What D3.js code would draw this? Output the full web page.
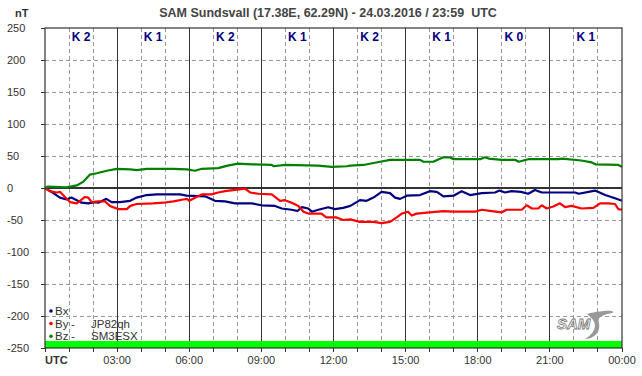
<!DOCTYPE html>
<html>
  <head>
    <meta charset="utf-8">
    <title>SAM Sundsvall magnetometer</title>
    <script src="https://d3js.org/d3.v7.min.js"></script>
    <style>
      body { margin: 0; background: #fff; }
      text { font-family: Arial, "Liberation Sans", sans-serif; white-space: pre; }
      line { shape-rendering: crispEdges; }
    </style>
  </head>
  <body>
    <div id="chart"></div>
    <script>
      var title = "SAM Sundsvall (17.38E, 62.29N) - 24.03.2016 / 23:59  UTC";
      var yTicks = [250, 200, 150, 100, 50, 0, -50, -100, -150, -200, -250];
      var xTickLabels = ["UTC", "03:00", "06:00", "09:00", "12:00", "15:00", "18:00", "21:00", "00:00"];
      var kValues = [2, 1, 2, 1, 2, 1, 0, 1];

      // [hour, nT]
      var bx = [[0,0],[0.35,-8],[0.62,-15],[0.9,-18],[1.1,-15],[1.32,-19],[1.52,-23],[1.8,-24],[2.08,-22],
        [2.22,-23],[2.43,-19],[2.55,-17],[2.77,-22],[3.12,-22],[3.54,-20],[3.81,-15],[4.23,-11],[4.65,-10],
        [5.62,-10],[5.89,-12],[6.66,-13],[7.07,-20],[7.49,-21],[7.9,-24],[8.6,-24],[9.01,-27],[9.57,-28],
        [9.85,-32],[10.26,-34],[10.5,-36],[10.68,-30],[10.95,-32],[11.1,-37],[11.37,-34],[11.78,-30],
        [12.06,-33],[12.4,-31],[12.7,-28],[13.1,-19],[13.38,-20],[13.66,-15],[14.0,-6],[14.35,-8],
        [14.56,-15],[14.77,-17],[15.05,-12],[15.6,-11],[16.0,-5],[16.3,-6],[16.57,-13],[16.99,-12],
        [17.33,-5],[17.68,-11],[18.17,-8],[18.72,-7],[18.9,-4],[19.14,-7],[19.4,-5],[19.8,-6],[20.1,-9],
        [20.38,-3],[20.66,-7],[21.35,-7],[22.05,-7],[22.2,-9],[22.88,-4],[23.3,-11],[23.71,-16],[24,-20]];

      var by = [[0,0],[0.2,-5],[0.49,-7],[0.62,-6],[0.83,-14],[1.04,-22],[1.32,-24],[1.52,-18],[1.66,-14],
        [1.8,-15],[1.94,-22],[2.22,-21],[2.5,-21],[2.7,-28],[3.05,-33],[3.4,-33],[3.55,-28],[3.81,-25],
        [4.5,-24],[4.92,-23],[5.34,-21],[5.75,-18],[5.9,-17],[6.0,-20],[6.3,-14],[6.52,-10],[6.93,-10],
        [7.2,-7],[7.49,-5],[7.9,-3],[8.32,-1],[8.53,-7],[8.87,-9],[9.43,-10],[9.78,-20],[9.98,-19],
        [10.26,-23],[10.54,-28],[10.75,-37],[10.95,-40],[11.5,-40],[11.7,-46],[12.13,-46],[12.4,-50],
        [12.7,-49],[13.1,-53],[13.66,-53],[14.0,-55],[14.35,-53],[14.63,-46],[14.84,-40],[15.1,-37],
        [15.25,-43],[15.46,-40],[16.0,-38],[16.57,-36],[16.99,-37],[17.54,-37],[17.89,-37],[18.17,-34],
        [18.58,-36],[19.0,-38],[19.2,-34],[19.83,-34],[20.04,-27],[20.25,-32],[20.52,-32],[20.66,-27],
        [20.87,-32],[21.14,-29],[21.42,-24],[21.63,-30],[21.9,-28],[22.32,-32],[22.81,-31],[23.09,-24],
        [23.43,-24],[23.71,-25],[23.85,-33],[24,-34]];

      var bz = [[0,0],[0.1,2],[0.9,1],[1.32,4],[1.6,10],[1.87,21],[2.15,23],[2.57,27],[2.98,30],[3.54,29],
        [3.82,28],[4.23,30],[5.34,30],[5.9,29],[6.24,27],[6.52,30],[7.2,31],[7.6,35],[8.03,38],[8.6,37],
        [9.43,36],[9.5,34],[9.98,36],[11.36,35],[11.93,33],[12.55,34],[12.7,35],[13.24,36],[13.94,41],
        [14.35,44],[15.6,44],[15.74,41],[16.15,41],[16.57,48],[16.85,48],[16.99,45],[18.1,45],[18.3,48],
        [18.45,46],[19.0,44],[19.55,44],[19.7,41],[19.9,43],[20.1,45],[21.35,45],[21.5,46],[22.3,43],
        [22.74,40],[22.9,37],[23.85,36],[24,33]];

      var series = [
        {name: "Bx", station: "", color: "#000080", data: bx},
        {name: "By", station: "JP82qh", color: "#ff0000", data: by},
        {name: "Bz", station: "SM3ESX", color: "#008000", data: bz}
      ];

      var width = 642, height = 376;
      var x = d3.scaleLinear().domain([0, 24]).range([45, 622]);
      var y = d3.scaleLinear().domain([-250, 250]).range([348, 28]);

      var svg = d3.select("#chart").append("svg")
        .attr("width", width)
        .attr("height", height);

      // title and unit
      svg.append("text").attr("x", 328).attr("y", 17).attr("text-anchor", "middle")
        .style("font-size", "12.5px").style("font-weight", "bold").attr("fill", "#444").text(title);
      svg.append("text").attr("x", 15).attr("y", 17)
        .style("font-size", "11px").style("font-weight", "bold").attr("fill", "#333").text("nT");

      // dashed grid
      var hours = d3.range(1, 24).filter(function(h) { return h % 3 != 0; });
      svg.selectAll("line.vgrid").data(hours).enter().append("line")
        .attr("x1", function(d) { return x(d); }).attr("x2", function(d) { return x(d); })
        .attr("y1", y(250)).attr("y2", y(-250))
        .attr("stroke", "#999").attr("stroke-dasharray", "4,3");
      svg.selectAll("line.hgrid").data(yTicks.filter(function(d) { return Math.abs(d) != 250 && d != 0; }))
        .enter().append("line")
        .attr("x1", x(0)).attr("x2", x(24))
        .attr("y1", function(d) { return y(d); }).attr("y2", function(d) { return y(d); })
        .attr("stroke", "#999").attr("stroke-dasharray", "4,3");

      // solid 3h lines and zero line
      svg.selectAll("line.vmain").data(d3.range(3, 24, 3)).enter().append("line")
        .attr("x1", function(d) { return x(d); }).attr("x2", function(d) { return x(d); })
        .attr("y1", y(250)).attr("y2", y(-250))
        .attr("stroke", "#333").attr("stroke-width", 1.2);
      svg.append("line").attr("x1", x(0)).attr("x2", x(24)).attr("y1", y(0)).attr("y2", y(0))
        .attr("stroke", "#333").attr("stroke-width", 1.2);

      // K index labels
      svg.selectAll("text.k").data(kValues).enter().append("text")
        .attr("x", function(d, i) { return x(i * 3 + 1.5); })
        .attr("y", 41)
        .attr("text-anchor", "middle")
        .style("font-size", "12px").style("font-weight", "bold")
        .attr("fill", "#000080")
        .text(function(d) { return "K " + d; });

      // K bar at the bottom
      svg.selectAll("rect.kbar").data(kValues).enter().append("rect")
        .attr("x", function(d, i) { return x(i * 3); })
        .attr("width", x(3) - x(0))
        .attr("y", y(-239)).attr("height", y(-250) - y(-239))
        .attr("fill", "#00ff00");

      // series
      var line = d3.line().x(function(d) { return x(d[0]); }).y(function(d) { return y(d[1]); });
      series.forEach(function(s) {
        svg.append("path").datum(s.data).attr("d", line)
          .attr("fill", "none").attr("stroke", s.color).attr("stroke-width", 2.2)
          .attr("stroke-linejoin", "round");
      });

      // frame
      svg.append("rect").attr("x", x(0)).attr("y", y(250))
        .attr("width", x(24) - x(0)).attr("height", y(-250) - y(250))
        .attr("fill", "none").attr("stroke", "#333").attr("stroke-width", 1.2);

      // y axis ticks + labels
      svg.selectAll("line.ytick").data(yTicks).enter().append("line")
        .attr("x1", x(0) - 4).attr("x2", x(0))
        .attr("y1", function(d) { return y(d); }).attr("y2", function(d) { return y(d); })
        .attr("stroke", "#333");
      svg.selectAll("text.ylab").data(yTicks).enter().append("text")
        .attr("x", 7).attr("y", function(d) { return y(d); }).attr("dy", "0.35em")
        .style("font-size", "11px").attr("fill", "#333")
        .text(function(d) { return d; });

      // x axis ticks + labels
      svg.selectAll("line.xtick").data(d3.range(0, 25)).enter().append("line")
        .attr("x1", function(d) { return x(d); }).attr("x2", function(d) { return x(d); })
        .attr("y1", y(-250)).attr("y2", y(-250) + 4)
        .attr("stroke", "#333");
      svg.selectAll("text.xlab").data(xTickLabels).enter().append("text")
        .attr("x", function(d, i) { return i == 0 ? x(0) : x(i * 3); })
        .attr("y", 364)
        .attr("text-anchor", function(d, i) { return i == 0 ? "start" : "middle"; })
        .style("font-size", "11px")
        .style("font-weight", function(d, i) { return i == 0 ? "bold" : "normal"; })
        .attr("fill", "#333")
        .text(function(d) { return d; });

      // legend
      var legend = svg.selectAll("g.legend").data(series).enter().append("g")
        .attr("transform", function(d, i) { return "translate(51," + (311 + i * 12.6) + ")"; });
      legend.append("circle").attr("r", 1.8).attr("fill", function(d) { return d.color; });
      legend.append("text").attr("x", 4).attr("dy", "0.35em")
        .style("font-size", "11.5px").attr("fill", "#333").text(function(d) { return d.name; });
      legend.filter(function(d) { return d.station; }).append("text").attr("x", 20).attr("dy", "0.35em")
        .style("font-size", "11.5px").attr("fill", "#333").text("-");
      legend.append("text").attr("x", 40).attr("dy", "0.35em")
        .style("font-size", "11.5px").attr("fill", "#333").text(function(d) { return d.station; });

      // SAM logo
      var logo = svg.append("g").attr("transform", "translate(557,329)");
      logo.append("path")
        .attr("d", "M30,-15 C50,-20 60,-18 55,-16 C45,-14 40,-12 42,-6 C44,4 36,10 28,10 C38,4 40,-4 36,-9 C34,-12 32,-13 30,-15 Z")
        .attr("fill", "#999");
      logo.append("text").attr("x", 0).attr("y", 0)
        .style("font-size", "15px").style("font-style", "italic").style("font-weight", "bold")
        .attr("fill", "#fff").attr("stroke", "#777").attr("stroke-width", 0.8)
        .text("SAM");
    </script>
  </body>
</html>
